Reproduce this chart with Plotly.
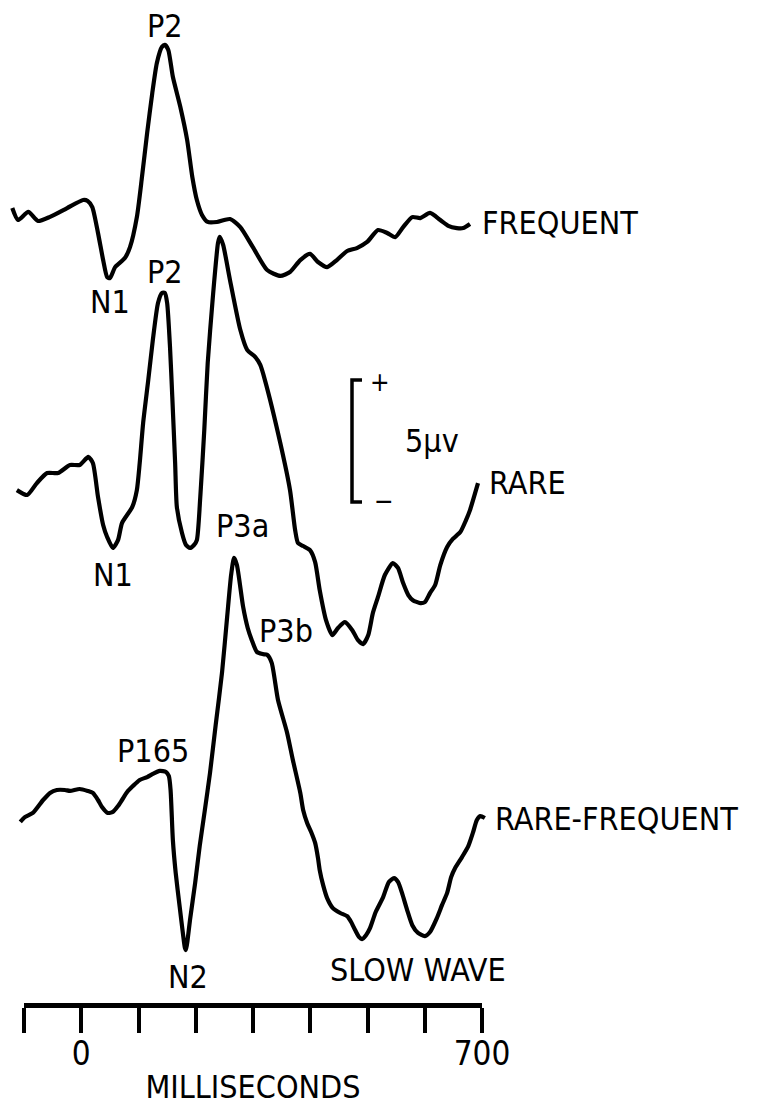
import plotly.graph_objects as go

# ---------------- data (ms, microvolts relative to pre-stimulus baseline) ----------------
freq_t = [-122, -112, -94, -77, -56, -26, 2, 10, 18, 28, 37, 44, 49, 58, 75, 84, 96, 105, 114, 123,
          131, 140, 145, 151, 159, 172, 184, 193, 201, 210, 220, 236, 259, 277, 299, 324, 347, 364,
          382, 399, 413, 429, 446, 464, 481, 499, 518, 534, 548, 562, 578, 592, 609, 627, 641, 656,
          667, 679]
freq_v = [0.16, -0.33, 0.00, -0.37, -0.20, 0.16, 0.49, 0.45, 0.20, -0.86, -1.97, -2.67, -2.71, -2.26,
          -1.89, -1.44, -0.21, 1.44, 3.24, 4.88, 6.11, 6.77, 6.85, 6.64, 5.54, 4.31, 2.95, 1.44, 0.49,
          -0.12, -0.41, -0.41, -0.29, -0.62, -1.44, -2.38, -2.62, -2.46, -1.97, -1.72, -2.05, -2.26,
          -1.97, -1.60, -1.48, -1.23, -0.74, -0.86, -1.03, -0.62, -0.21, -0.25, -0.04, -0.33, -0.57,
          -0.66, -0.66, -0.49]

rare_t = [-114, -96, -79, -61, -42, -21, -4, 11, 19, 28, 37, 44, 54, 63, 70, 88, 96, 101, 107, 116,
          124, 133, 140, 145, 149, 154, 158, 163, 166, 175, 182, 189, 196, 201, 207, 214, 220, 229,
          238, 241, 247, 259, 277, 289, 303, 312, 320, 347, 364, 373, 378, 387, 399, 408, 416, 427,
          438, 448, 460, 473, 483, 492, 501, 509, 518, 530, 544, 553, 562, 571, 579, 592, 600, 609,
          618, 627, 639, 649, 662, 672, 679, 686, 693]
rare_v = [-0.62, -0.82, -0.33, 0.08, 0.08, 0.41, 0.41, 0.74, 0.49, -0.90, -2.05, -2.54, -2.99, -2.67,
          -1.97, -1.31, -0.62, 0.49, 2.13, 3.90, 5.54, 7.05, 7.46, 7.46, 7.05, 5.25, 3.20, 0.49, -1.31,
          -2.38, -2.87, -2.99, -2.87, -2.67, -0.90, 1.85, 4.59, 7.30, 9.51, 9.76, 9.43, 7.99, 5.95,
          5.13, 4.84, 4.51, 3.90, 1.31, -0.62, -2.26, -2.79, -2.91, -3.08, -3.57, -4.72, -5.95, -6.56,
          -6.27, -6.03, -6.36, -6.77, -6.93, -6.56, -5.66, -5.00, -4.10, -3.61, -3.81, -4.43, -4.92,
          -5.13, -5.25, -5.21, -4.84, -4.51, -3.69, -2.95, -2.62, -2.34, -1.85, -1.44, -0.90, -0.33]

diff_t = [-108, -100, -86, -68, -56, -44, -30, -21, -4, 10, 19, 28, 35, 45, 54, 63, 70, 79, 89, 101,
          114, 124, 136, 147, 152, 155, 159, 164, 171, 177, 180, 182, 185, 189, 198, 206, 215, 224,
          234, 245, 254, 261, 266, 271, 282, 290, 297, 306, 316, 324, 332, 343, 359, 369,
          382, 387, 394, 401, 408, 413, 416, 422, 429, 439, 452, 464, 471, 478,
          485, 490, 497, 504, 514, 527, 537, 546, 553, 560, 569, 578, 588, 600, 609, 621, 630, 639,
          646, 653, 665, 676, 684, 691, 697, 705]
diff_v = [-0.90, -0.70, -0.53, 0.00, 0.29, 0.41, 0.41, 0.37, 0.45, 0.37, 0.29, 0.00, -0.29, -0.53,
          -0.49, -0.25, 0.00, 0.33, 0.57, 0.82, 0.94, 1.07, 1.19, 1.15, 0.98, 0.41, -1.64, -2.99,
          -4.39, -5.54, -6.05, -6.15, -5.70, -4.92, -3.40, -1.89, -0.41, 1.11, 3.08, 5.21, 7.50, 9.23,
          9.92, 9.64, 7.91, 7.05, 6.56, 6.07, 5.98, 5.95, 5.62, 4.10, 2.75, 1.64,
          0.29, -0.41, -0.94, -1.31, -1.76, -2.38, -2.87, -3.49, -4.02, -4.43,
          -4.63, -4.76, -5.00, -5.33, -5.62, -5.70, -5.54, -5.25, -4.59, -3.98, -3.36, -3.20, -3.36,
          -3.81, -4.51, -5.13, -5.45, -5.58, -5.41, -4.84, -4.31, -3.81, -3.16, -2.79, -2.34, -1.89,
          -1.35, -0.82, -0.66, -0.74]

trace_names = ["FREQUENT", "RARE", "RARE-FREQUENT"]
time_ticks = [-100, 0, 100, 200, 300, 400, 500, 600, 700]
time_tick_labels = ["", "0", "", "", "", "", "", "", "700"]
cal_uv = 5

# ---------------- layout constants ----------------
# the page adds an 8px body margin, so the figure is 16px smaller than the window
W, H = 752, 1098
OFFSETS = [36.97, 26.19, 12.87]        # vertical stacking of the traces (µV)
X_RANGE = [-129.5, 1186.5]
Y_RANGE = [0.328, 45.33]
FONT = "DejaVu Sans Condensed, Liberation Sans Narrow, DejaVu Sans, sans-serif"
LW = 4.2

fig = go.Figure()
series = [(freq_t, freq_v), (rare_t, rare_v), (diff_t, diff_v)]
for (t, v), off, name in zip(series, OFFSETS, trace_names):
    fig.add_trace(go.Scatter(x=t, y=[a + off for a in v], mode="lines", name=name,
                             line=dict(color="black", width=LW, shape="spline", smoothing=0.6),
                             hoverinfo="skip"))

# calibration bracket (5 µV)
cal_x, cal_tick = 472.5, 17.5
cal_top = 30.08
fig.add_trace(go.Scatter(x=[cal_x + cal_tick, cal_x, cal_x, cal_x + cal_tick],
                         y=[cal_top, cal_top, cal_top - cal_uv, cal_top - cal_uv],
                         mode="lines", line=dict(color="black", width=3.5), hoverinfo="skip"))

# invisible trace holding the time-scale axis
fig.add_trace(go.Scatter(x=[time_ticks[0], time_ticks[-1]], y=[0, 0], xaxis="x2", yaxis="y2",
                         mode="markers", marker=dict(opacity=0), hoverinfo="skip"))

labels = [
    ("P2", 145, 44.59, "center"), ("N1", 49, 33.28, "center"),
    ("P2", 145, 34.51, "center"), ("N1", 54, 22.09, "center"),
    ("P3a", 280, 24.10, "center"), ("P3b", 357, 19.80, "center"),
    ("P165", 124, 14.88, "center"), ("N2", 186, 5.61, "center"),
    ("SLOW WAVE", 588, 5.90, "center"),
    ("FREQUENT", 696.5, 36.52, "left"), ("RARE", 709, 25.86, "left"),
    ("RARE-FREQUENT", 719, 12.09, "left"),
    ("5µv", 612.5, 27.58, "center"),
]
for txt, x, y, anc in labels:
    fig.add_annotation(x=x, y=y, text=txt, showarrow=False, xanchor=anc, yanchor="middle",
                       font=dict(family=FONT, size=32, color="black"))
fig.add_annotation(x=521.5, y=30.0, text="+", showarrow=False,
                   font=dict(family=FONT, size=26, color="black"))
fig.add_annotation(x=528.5, y=25.12, text="−", showarrow=False,
                   font=dict(family=FONT, size=26, color="black"))

fig.update_layout(
    width=W, height=H, margin=dict(l=0, r=0, t=0, b=0, autoexpand=False),
    paper_bgcolor="white", plot_bgcolor="white", showlegend=False,
    xaxis=dict(range=X_RANGE, visible=False, domain=[0, 1]),
    yaxis=dict(range=Y_RANGE, visible=False, domain=[0, 1]),
    xaxis2=dict(domain=[16 / W, 474 / W], range=[time_ticks[0], time_ticks[-1]], anchor="y2",
                showline=True, linewidth=5, linecolor="black", ticks="outside", ticklen=25,
                tickwidth=4, tickcolor="black", tickvals=time_ticks, ticktext=time_tick_labels,
                showgrid=False, zeroline=False, ticklabelstandoff=-8,
                tickfont=dict(family=FONT, size=33, color="black"),
                title=dict(text="MILLISECONDS", standoff=9,
                           font=dict(family=FONT, size=32, color="black"))),
    yaxis2=dict(domain=[(1098 - 995) / H, (1098 - 985) / H], anchor="x2", visible=False,
                range=[0, 1]),
)

fig.write_html("out.html")
